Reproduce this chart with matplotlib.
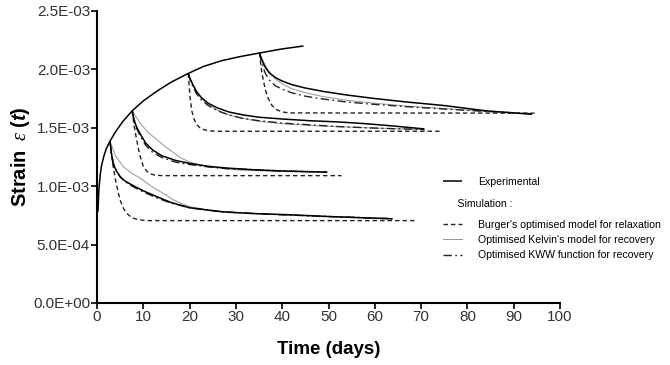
import matplotlib
matplotlib.use("Agg")
import matplotlib.pyplot as plt
import numpy as np
from matplotlib.lines import Line2D

plt.rcParams['font.family'] = ['Liberation Sans', 'DejaVu Sans']
plt.rcParams['mathtext.fontset'] = 'custom'
plt.rcParams['mathtext.rm'] = 'Liberation Sans'
plt.rcParams['mathtext.it'] = 'Liberation Serif:italic'
plt.rcParams['mathtext.bf'] = 'Liberation Sans:bold'
plt.rcParams['mathtext.bfit'] = 'Liberation Sans:bold:italic'

SCALE = 1e-3  # strain values below are in units of 1E-03

# Experimental loading curve
load_t = [0.2, 0.4, 0.7, 1.0, 1.5, 2.0, 2.8, 4.0, 5.5, 7.6, 10, 13, 16, 19.7, 23, 27, 31, 35.1, 40, 44.6]
load_e = [0.78, 0.97, 1.10, 1.18, 1.26, 1.32, 1.385, 1.465, 1.55, 1.645, 1.73, 1.815, 1.89, 1.965, 2.025, 2.075, 2.11, 2.14, 2.175, 2.20]

# Experimental recovery curves
exp1_t = [2.8, 3.1, 3.5, 4.2, 5, 6, 7.1, 8.5, 10, 12.9, 16, 20, 27, 34, 41.6, 50, 63.8]
exp1_e = [1.385, 1.28, 1.19, 1.13, 1.08, 1.045, 1.02, 0.99, 0.96, 0.91, 0.86, 0.815, 0.78, 0.765, 0.755, 0.74, 0.72]
exp2_t = [7.6, 8.0, 8.5, 9.3, 10.5, 12, 14, 17, 20, 24, 28, 34, 40, 49.7]
exp2_e = [1.645, 1.57, 1.51, 1.45, 1.37, 1.31, 1.26, 1.22, 1.195, 1.17, 1.155, 1.14, 1.13, 1.12]
exp3_t = [19.7, 20.2, 20.8, 21.5, 22.5, 24, 26, 28.5, 31.5, 35, 40, 46, 52, 58, 64, 70.7]
exp3_e = [1.965, 1.91, 1.86, 1.81, 1.76, 1.71, 1.67, 1.635, 1.61, 1.59, 1.575, 1.56, 1.55, 1.535, 1.515, 1.49]
exp4_t = [35.1, 35.6, 36.3, 37.2, 38.5, 40, 42, 45, 49, 54, 60, 67, 75, 84, 94]
exp4_e = [2.14, 2.08, 2.02, 1.97, 1.93, 1.90, 1.87, 1.84, 1.81, 1.78, 1.75, 1.72, 1.69, 1.645, 1.615]

# Burger's optimised model for relaxation
bur1_t = [2.8, 3.2, 3.6, 4.0, 4.5, 5, 5.7, 6.5, 7.5, 9, 11, 69]
bur1_e = [1.385, 1.25, 1.14, 1.05, 0.96, 0.88, 0.81, 0.765, 0.73, 0.712, 0.705, 0.705]
bur2_t = [7.6, 8.0, 8.5, 9.0, 9.5, 10, 10.7, 11.5, 12.5, 14, 52.8]
bur2_e = [1.645, 1.52, 1.41, 1.31, 1.23, 1.17, 1.13, 1.105, 1.095, 1.09, 1.09]
bur3_t = [19.7, 20.1, 20.5, 21.0, 21.6, 22.3, 23.2, 24.5, 26, 74.6]
bur3_e = [1.965, 1.76, 1.64, 1.57, 1.525, 1.497, 1.482, 1.473, 1.47, 1.47]
bur4_t = [35.1, 35.5, 35.9, 36.4, 37, 37.8, 38.8, 40, 41.5, 94.5]
bur4_e = [2.14, 2.00, 1.91, 1.82, 1.75, 1.69, 1.655, 1.635, 1.627, 1.625]

# Optimised Kelvin's model for recovery
kel1_t = [2.8, 4, 5.6, 7.5, 9.3, 11, 12.9, 14.7, 16.4, 18, 20, 24, 30, 40, 50, 63.8]
kel1_e = [1.385, 1.26, 1.17, 1.11, 1.07, 1.02, 0.97, 0.93, 0.885, 0.855, 0.825, 0.795, 0.775, 0.755, 0.74, 0.722]
kel2_t = [7.6, 9.3, 11, 12.9, 14.7, 16.4, 18, 20, 24, 30, 40, 49.7]
kel2_e = [1.645, 1.54, 1.46, 1.40, 1.34, 1.29, 1.245, 1.205, 1.165, 1.14, 1.125, 1.12]
kel3_t = [19.7, 20.5, 21.5, 22.5, 24, 26, 28.5, 31.5, 35, 40, 46, 52, 58, 64, 70.7]
kel3_e = [1.965, 1.89, 1.81, 1.755, 1.70, 1.65, 1.61, 1.58, 1.555, 1.535, 1.52, 1.51, 1.50, 1.492, 1.485]
kel4_t = [35.1, 36, 37, 38.5, 40, 42, 45, 49, 54, 60, 67, 75, 84, 94]
kel4_e = [2.14, 2.06, 1.99, 1.92, 1.875, 1.835, 1.80, 1.765, 1.735, 1.71, 1.685, 1.665, 1.64, 1.62]

# Optimised KWW function for recovery
kww1_t = [2.8, 3.1, 3.5, 4.2, 5, 6, 7.1, 8.5, 10, 12.9, 16, 20, 27, 34, 41.6, 50, 63.8]
kww1_e = [1.385, 1.29, 1.20, 1.135, 1.08, 1.04, 1.01, 0.98, 0.95, 0.90, 0.855, 0.815, 0.78, 0.765, 0.752, 0.74, 0.722]
kww2_t = [7.6, 8.0, 8.5, 9.3, 10.5, 12, 14, 17, 20, 24, 28, 34, 40, 49.7]
kww2_e = [1.645, 1.56, 1.50, 1.43, 1.35, 1.29, 1.245, 1.205, 1.185, 1.165, 1.15, 1.14, 1.13, 1.12]
kww3_t = [19.7, 20.2, 20.8, 21.5, 22.5, 24, 26, 28.5, 31.5, 35, 40, 46, 52, 58, 64, 70.7]
kww3_e = [1.965, 1.90, 1.845, 1.79, 1.74, 1.69, 1.645, 1.61, 1.58, 1.56, 1.54, 1.525, 1.51, 1.50, 1.492, 1.485]
kww4_t = [35.1, 35.6, 36.3, 37.2, 38.5, 40, 42, 45, 49, 54, 60, 67, 75, 84, 94]
kww4_e = [2.14, 2.05, 1.97, 1.91, 1.86, 1.83, 1.80, 1.77, 1.745, 1.72, 1.70, 1.68, 1.66, 1.64, 1.62]

x_ticks = [0, 10, 20, 30, 40, 50, 60, 70, 80, 90, 100]
y_ticks = [0.0, 0.0005, 0.0010, 0.0015, 0.0020, 0.0025]
y_tick_labels = ["0.0E+00", "5.0E-04", "1.0E-03", "1.5E-03", "2.0E-03", "2.5E-03"]

legend_labels = ["Experimental", "Burger's optimised model for relaxation",
                 "Optimised Kelvin's model for recovery", "Optimised KWW function for recovery"]

fig = plt.figure(figsize=(6.7, 3.65), dpi=100)
ax = fig.add_axes([0.1448, 0.170, 0.691, 0.80])

exp_style = dict(color='black', lw=1.1, solid_capstyle='butt')
bur_style = dict(color='#222222', lw=1.0, ls=(0, (3.2, 2.2)))
kel_style = dict(color='#999999', lw=0.75, ls='-')
kww_style = dict(color='#222222', lw=1.0, ls=(0, (6, 2.5, 1.2, 2.5)))

def s(v):
    return np.asarray(v) * SCALE

for tt, ee in [(bur1_t, bur1_e), (bur2_t, bur2_e), (bur3_t, bur3_e), (bur4_t, bur4_e)]:
    ax.plot(tt, s(ee), **bur_style)
for tt, ee in [(kel1_t, kel1_e), (kel2_t, kel2_e), (kel3_t, kel3_e), (kel4_t, kel4_e)]:
    ax.plot(tt, s(ee), **kel_style)
for tt, ee in [(kww1_t, kww1_e), (kww2_t, kww2_e), (kww3_t, kww3_e), (kww4_t, kww4_e)]:
    ax.plot(tt, s(ee), **kww_style)
ax.plot(load_t, s(load_e), **exp_style)
for tt, ee in [(exp1_t, exp1_e), (exp2_t, exp2_e), (exp3_t, exp3_e), (exp4_t, exp4_e)]:
    ax.plot(tt, s(ee), **exp_style)

ax.set_xlim(0, 100)
ax.set_ylim(0, 0.0025)
ax.set_xticks(x_ticks)
ax.set_xticklabels([str(v) for v in x_ticks])
ax.set_yticks(y_ticks)
ax.set_yticklabels(y_tick_labels)
for sp in ['top', 'right']:
    ax.spines[sp].set_visible(False)
for sp in ['left', 'bottom']:
    ax.spines[sp].set_linewidth(1.5)
    ax.spines[sp].set_color('black')
ax.tick_params(axis='both', direction='out', length=4, width=1.2, colors='black',
               labelsize=11, labelcolor='#333333', pad=1)

ax.set_xlabel("Time (days)", fontsize=13.5, fontweight='bold', labelpad=12)
ax.set_ylabel(r"$\mathbf{Strain}\ \ \varepsilon\ \mathbf{(}\mathbfit{t}\mathbf{)}$", fontsize=14.5, labelpad=1)

LFS = 7.6
h_exp = [Line2D([], [], **exp_style)]
leg1 = ax.legend(h_exp, legend_labels[:1], loc='upper left', bbox_to_anchor=(0.747, 0.432),
                 frameon=False, fontsize=LFS, handlelength=1.8, handletextpad=1.5,
                 borderaxespad=0, borderpad=0)
ax.add_artist(leg1)
h_sim = [Line2D([], [], **bur_style), Line2D([], [], **kel_style), Line2D([], [], **kww_style)]
leg2 = ax.legend(h_sim, legend_labels[1:], loc='upper left', bbox_to_anchor=(0.747, 0.357),
                 frameon=False, fontsize=LFS, handlelength=1.8, handletextpad=1.5,
                 labelspacing=0.5, borderaxespad=0, borderpad=0,
                 title="     Simulation :", title_fontsize=LFS, alignment='left')
leg2._legend_box.sep = 8

fig.savefig("out.png", dpi=100)
